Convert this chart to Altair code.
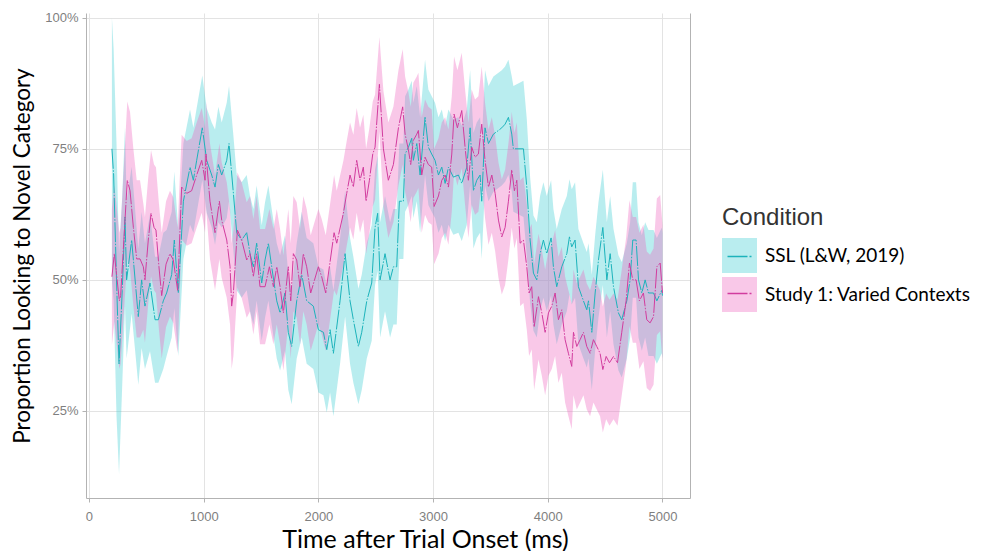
import altair as alt
import pandas as pd

conditions = ["SSL (L&W, 2019)", "Study 1: Varied Contexts"]
line_keys = ["ssl", "s1"]

# SSL (L&W, 2019): time (ms), mean proportion (%), ribbon half-width (%)
ssl_t = [200, 215, 240, 262, 290, 314, 328, 372, 430, 459, 488, 532, 576, 605, 648, 677, 721, 744, 779, 823,
         881, 910, 939, 988, 1026, 1070, 1099, 1128, 1157, 1201, 1221, 1259, 1288, 1331, 1375, 1404, 1433, 1462,
         1506, 1535, 1564, 1593, 1637, 1666, 1709, 1738, 1767, 1811, 1855, 1898, 1956, 2000, 2044, 2073, 2102,
         2131, 2189, 2233, 2276, 2305, 2349, 2378, 2422, 2465, 2494, 2517, 2538, 2581, 2625, 2654, 2683, 2706,
         2741, 2756, 2785, 2814, 2828, 2858, 2887, 2930, 2959, 2988, 3017, 3047, 3076, 3105, 3134, 3177, 3221,
         3250, 3294, 3323, 3352, 3381, 3410, 3424, 3453, 3483, 3526, 3570, 3599, 3628, 3657, 3686, 3700, 3788,
         3817, 3846, 3875, 3904, 3933, 3962, 3991, 4029, 4049, 4078, 4122, 4166, 4189, 4209, 4238, 4267, 4311,
         4340, 4355, 4384, 4413, 4442, 4480, 4515, 4544, 4573, 4616, 4645, 4689, 4718, 4741, 4770, 4791, 4820,
         4849, 4878, 4922, 4951, 4994, 5000]
ssl_mean = [75, 70, 50, 34, 48, 62, 50, 57.6, 43, 50, 45, 49.4, 42.4, 42.4, 46, 47.5, 51, 57.6, 47.5, 65,
            71.5, 69, 72.8, 79, 72.8, 70, 67.7, 72, 70, 72.8, 76, 66.5, 59, 57.6, 59, 55, 52.5, 57,
            49.4, 53.8, 57, 52.5, 46, 43.7, 47.5, 40, 37.3, 46, 51, 46, 45, 40.5, 40, 36.7, 40.5,
            36, 46, 55, 46, 42.4, 37.3, 40, 46, 49.4, 60, 62.7, 50, 55, 50, 52.5, 52.5, 65,
            65, 74, 75.3, 77, 72.8, 76, 70, 81, 75.3, 74, 72.8, 70, 71.5, 68.4, 71.5, 69.6, 70,
            68.4, 71.5, 79, 67, 69, 70, 65, 79, 76, 77.8, 78.5, 79, 79.7, 81, 77.8, 75, 75,
            67.7, 57.6, 51.3, 50, 55, 57.6, 55, 58, 52.5, 48.7, 52.5, 55, 58.2, 56.3, 57.6, 48.7, 46,
            44.3, 46, 40, 47.5, 53.8, 60, 50, 55, 48.7, 43.7, 42.4, 46, 50, 57.6, 57.6, 50, 47.5,
            50, 47.5, 47.5, 46, 48, 47]
ssl_hw = [25, 24, 26, 21, 18, 17, 15, 14, 13, 13, 12, 13, 12, 12, 13, 12, 12, 13, 12, 11,
          11, 10, 10, 10, 10, 10, 11, 11, 10, 11, 11, 11, 11, 11, 11, 11, 11, 11,
          11, 11, 11, 11, 11, 11, 11, 11, 11, 11, 12, 12, 12, 12, 12, 12, 12,
          12, 12, 12, 12, 12, 11, 11, 11, 11, 11, 11, 11, 11, 11, 11, 11, 11,
          11, 11, 11, 11, 11, 11, 11, 11, 11, 11, 11, 11, 11, 11, 11, 11, 11,
          11, 11, 11, 11, 11, 11, 11, 11, 11, 11, 11, 11, 11, 11, 11, 12, 13,
          13, 12, 11, 11, 11, 11, 11, 11, 11, 11, 11, 11, 11, 11, 11, 11, 11,
          11, 11, 11, 11, 11, 11, 11, 11, 11, 11, 11, 11, 11, 11, 11, 11, 11,
          11, 12, 12, 12, 12, 12]

# Study 1: Varied Contexts
s1_t = [200, 221, 265, 276, 334, 358, 387, 416, 445, 474, 488, 517, 541, 567, 584, 610, 634, 672, 706, 735,
        773, 808, 852, 895, 939, 983, 1012, 1020, 1055, 1099, 1137, 1157, 1201, 1230, 1244, 1259, 1294, 1331,
        1375, 1404, 1433, 1462, 1491, 1535, 1573, 1608, 1637, 1666, 1695, 1738, 1759, 1782, 1811, 1840, 1869,
        1898, 1933, 2000, 2029, 2064, 2096, 2137, 2160, 2218, 2247, 2276, 2305, 2334, 2363, 2392, 2416, 2445,
        2474, 2494, 2532, 2567, 2610, 2654, 2698, 2735, 2756, 2785, 2805, 2828, 2858, 2872, 2901, 2930, 2959,
        2988, 3009, 3047, 3076, 3105, 3134, 3163, 3183, 3212, 3250, 3279, 3308, 3337, 3366, 3395, 3424, 3453,
        3483, 3512, 3541, 3570, 3599, 3628, 3657, 3686, 3709, 3730, 3759, 3788, 3817, 3837, 3860, 3881, 3919,
        3948, 3977, 4006, 4035, 4064, 4093, 4122, 4151, 4180, 4209, 4224, 4253, 4282, 4311, 4340, 4369, 4398,
        4427, 4456, 4480, 4509, 4538, 4573, 4608, 4645, 4683, 4712, 4741, 4770, 4799, 4834, 4863, 4892, 4922,
        4951, 4980, 5000]
s1_mean = [50.6, 55, 46, 47, 69, 67, 60, 54, 54, 52.5, 50, 57.6, 62.7, 60, 59.5, 52.5, 47, 53, 55, 53.8,
           48, 67.7, 66.5, 67, 70, 72.8, 69, 74, 65, 59, 65, 61.4, 57.6, 52.5, 45, 47.5, 59.5, 57.6,
           53.8, 55, 50.6, 55, 48.7, 48.7, 52.5, 48.7, 52.5, 48.7, 43.7, 52.5, 46, 55, 53.8, 48.7, 55,
           52.5, 47.5, 52.5, 50.6, 47.5, 52.5, 59, 57, 62.7, 66.5, 70, 67.7, 72.8, 69, 71.5, 65, 69,
           74, 75.3, 87.3, 75, 69, 72, 79, 83, 77.8, 74.8, 72, 76.6, 77.8, 78.5, 70, 73.4, 72,
           71.5, 64, 66, 69, 70, 67.7, 74, 81.6, 79, 82.3, 75.3, 69, 75.3, 73.4, 74, 79.7, 72.8,
           67.7, 70, 66.5, 61.4, 58.2, 60, 65, 71, 67, 69, 57, 57.6, 52.5, 47.5, 48.7, 41, 46.8,
           43.7, 40, 43.7, 45, 47.5, 42.4, 44.3, 38.6, 36, 33.5, 40, 37.3, 38.6, 40, 37.3, 36, 38.6,
           37.3, 36, 32.9, 35.4, 34.2, 35.4, 34.2, 40, 46, 53.2, 50, 50, 46, 47.5, 42.4, 41.8, 43,
           52.5, 53.2, 47.5]
s1_hw = [13, 13, 13, 13, 15, 15, 15, 15, 15, 12, 12, 12, 12, 12, 12, 12, 12, 12, 12, 12,
         12, 10, 10, 10, 10, 10, 10, 10, 11, 11, 11, 11, 11, 11, 12, 12, 11, 11,
         11, 11, 11, 11, 11, 11, 11, 11, 11, 11, 11, 11, 11, 11, 11, 11, 11,
         11, 11, 11, 11, 11, 11, 11, 10, 10, 10, 10, 10, 10, 10, 10, 10, 10,
         10, 10, 9, 11, 11, 11, 11, 11, 11, 11, 11, 11, 11, 11, 11, 11, 11,
         11, 11, 11, 11, 11, 11, 11, 11, 11, 11, 11, 11, 11, 11, 11, 11, 11,
         11, 11, 11, 11, 11, 11, 11, 11, 11, 11, 12, 12, 12, 12, 12, 12, 12,
         12, 12, 12, 12, 12, 12, 12, 12, 12, 12, 12, 12, 12, 12, 12, 12, 12,
         12, 12, 12, 12, 12, 12, 12, 12, 12, 12, 12, 12, 13, 13, 13, 13, 13,
         13, 13, 13]

x_ticks = [0, 1000, 2000, 3000, 4000, 5000]
y_ticks = [0.25, 0.5, 0.75, 1.0]

rows = []
for cond, key, ts, ms, hs in [(conditions[0], line_keys[0], ssl_t, ssl_mean, ssl_hw),
                              (conditions[1], line_keys[1], s1_t, s1_mean, s1_hw)]:
    for t, m, h in zip(ts, ms, hs):
        rows.append({"condition": cond, "cond_line": key, "t": t, "mean": m / 100,
                     "lo": (m - h) / 100, "hi": min(m + h, 100) / 100})
df = pd.DataFrame(rows)

fill_colors = ["#36cbd1", "#ee62bd"]
line_colors = ["#1cb3bb", "#d23c9e"]

xscale = alt.Scale(domain=[-26, 5240], nice=False, zero=False)
yscale = alt.Scale(domain=[0.084, 1.009], nice=False, zero=False)

x_axis = alt.Axis(values=x_ticks, title="Time after Trial Onset (ms)", format="d", labelPadding=8,
                  titlePadding=4, titleX=339, titleFontSize=25)
y_axis = alt.Axis(values=y_ticks, format=".0%", title="Proportion Looking to Novel Category",
                  labelPadding=4, titlePadding=10, titleFontSize=22.5)
y_axis_right = alt.Axis(orient="right", labels=False, ticks=False, grid=False, title="", domain=True)

leg_x, leg_y = 636, 193

base = alt.Chart(df)

area = base.mark_area(opacity=0.35).encode(
    x=alt.X("t:Q", scale=xscale, axis=x_axis),
    y=alt.Y("lo:Q", scale=yscale, axis=y_axis),
    y2="hi:Q",
    fill=alt.Fill("condition:N", scale=alt.Scale(domain=conditions, range=fill_colors),
                  legend=alt.Legend(title="Condition", orient="none", legendX=leg_x, legendY=leg_y,
                                    symbolType="square", symbolSize=1225, symbolStrokeWidth=0,
                                    symbolOpacity=0.35, titleFont="Liberation Sans", titleFontSize=24,
                                    titleColor="#333333", titleFontWeight="normal", labelFont="Lato",
                                    labelFontSize=19, labelColor="black", labelOffset=8, rowPadding=4,
                                    titlePadding=8, labelLimit=400)),
)

line = base.mark_line(strokeWidth=1, strokeDash=[20, 1.5, 1.5, 1.5]).encode(
    x=alt.X("t:Q", scale=xscale, axis=x_axis),
    y=alt.Y("mean:Q", scale=yscale, axis=y_axis_right),
    stroke=alt.Stroke("cond_line:N", scale=alt.Scale(domain=line_keys, range=line_colors),
                      legend=alt.Legend(title=" ", orient="none", legendX=leg_x + 4.5,
                                        legendY=leg_y + 4.5, symbolType="stroke", symbolSize=676,
                                        symbolStrokeWidth=1.5, symbolDash=[20, 2, 2, 2],
                                        titleFont="Liberation Sans", titleFontSize=24,
                                        titleFontWeight="normal", labelFont="Lato", labelFontSize=19,
                                        labelExpr="''", labelOffset=8, rowPadding=13, titlePadding=8)),
)

chart = alt.layer(area, line).resolve_axis(y="independent").properties(
    width=604, height=485,
    autosize="none",
    padding={"left": 78, "top": 5, "right": 280, "bottom": 55},
).configure_view(strokeWidth=0).configure_axis(
    gridColor="#e3e3e3", gridWidth=1, domainColor="#b3b3b3", tickColor="#b3b3b3", tickSize=4,
    labelColor="#7f7f7f", labelFont="Liberation Sans", labelFontSize=13,
    titleFont="Lato", titleFontSize=21, titleColor="black", titleFontWeight="normal",
)

chart.save("out.html", embed_options={"renderer": "svg", "actions": False})
